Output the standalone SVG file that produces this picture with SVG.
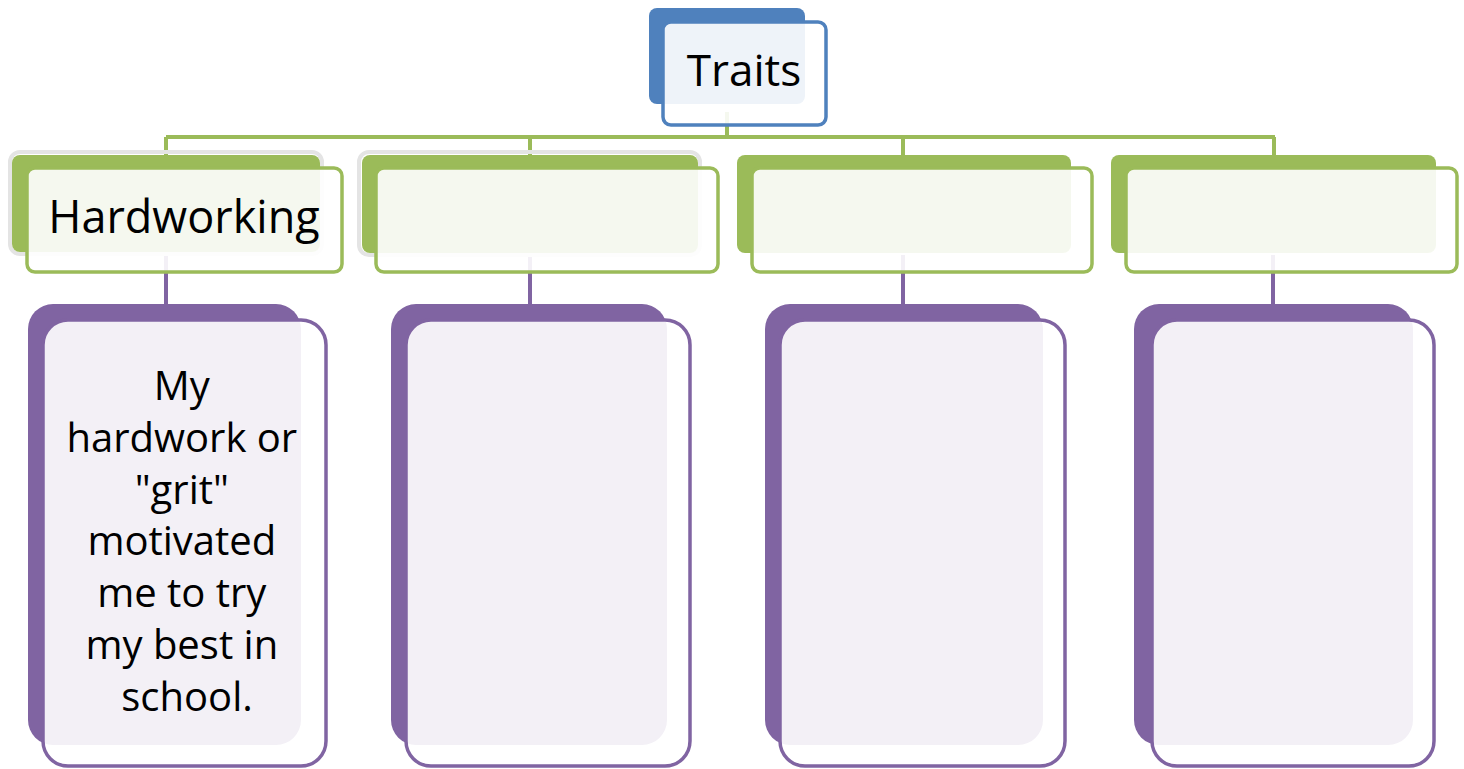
<svg xmlns="http://www.w3.org/2000/svg" width="1464" height="769" viewBox="0 0 1464 769">
<style>
.gback{fill:#9BBB59}
.gfront{fill:#ffffff;fill-opacity:0.9;stroke:#9BBB59;stroke-width:3.5}
.pback{fill:#8064A2}
.pfront{fill:#ffffff;fill-opacity:0.9;stroke:#8064A2;stroke-width:3.5}
.bback{fill:#4F81BD}
.bfront{fill:#ffffff;fill-opacity:0.9;stroke:#4F81BD;stroke-width:3.5}
.halo{fill:none;stroke:#e4e4e4;stroke-width:4}
.gline{stroke:#9BBB59;stroke-width:4;fill:none}
.pline{stroke:#8064A2;stroke-width:4;fill:none}
.t{font-family:"Open Sans","Noto Sans",sans-serif;fill:#000;text-anchor:middle}
</style>
<rect width="1464" height="769" fill="#ffffff"/>
<g id="connectors">
<path class="gline" d="M727,112 V137 M166,137 H1275 M166,137 V156 M530,137 V156 M903,137 V156 M1274,137 V156"/>
<path class="pline" d="M166,255 V306 M530,255 V306 M903,255 V306 M1273,255 V306"/>
</g>
<g id="traits">
<rect class="bback" x="649" y="8" width="156" height="96" rx="8"/>
<rect class="bfront" x="663" y="22" width="163" height="103" rx="8"/>
<text class="t" x="744" y="86" font-size="44">Traits</text>
</g>
<g id="hardworking">
<rect class="halo" x="10" y="152" width="312" height="102" rx="10"/>
<rect class="gback" x="12" y="155" width="308" height="97" rx="8"/>
<rect class="gfront" x="27" y="168" width="315" height="104" rx="8"/>
<text class="t" x="184" y="233" font-size="45">Hardworking</text>
</g>
<g id="trait2">
<rect class="halo" x="359" y="152" width="341" height="103" rx="10"/>
<rect class="gback" x="362" y="155" width="336" height="98" rx="8"/>
<rect class="gfront" x="376" y="168" width="342" height="104" rx="8"/>
</g>
<g id="trait3">
<rect class="gback" x="737" y="155" width="334" height="98" rx="8"/>
<rect class="gfront" x="752" y="168" width="340" height="104" rx="8"/>
</g>
<g id="trait4">
<rect class="gback" x="1111" y="155" width="325" height="98" rx="8"/>
<rect class="gfront" x="1126" y="168" width="331" height="104" rx="8"/>
</g>
<g id="detail1">
<rect class="pback" x="28" y="304" width="273" height="441" rx="25"/>
<rect class="pfront" x="43" y="320" width="283" height="446" rx="25"/>
<text class="t" font-size="40">
<tspan x="187" y="400">My</tspan>
<tspan x="187" y="452">hardwork or</tspan>
<tspan x="187" y="504">"grit"</tspan>
<tspan x="187" y="555">motivated</tspan>
<tspan x="187" y="607">me to try</tspan>
<tspan x="187" y="659">my best in</tspan>
<tspan x="187" y="711">school.</tspan>
</text>
</g>
<g id="detail2">
<rect class="pback" x="391" y="304" width="276" height="441" rx="25"/>
<rect class="pfront" x="406" y="320" width="284" height="446" rx="25"/>
</g>
<g id="detail3">
<rect class="pback" x="765" y="304" width="278" height="441" rx="25"/>
<rect class="pfront" x="780" y="320" width="285" height="446" rx="25"/>
</g>
<g id="detail4">
<rect class="pback" x="1134" y="304" width="279" height="441" rx="25"/>
<rect class="pfront" x="1152" y="320" width="282" height="446" rx="25"/>
</g>
</svg>
